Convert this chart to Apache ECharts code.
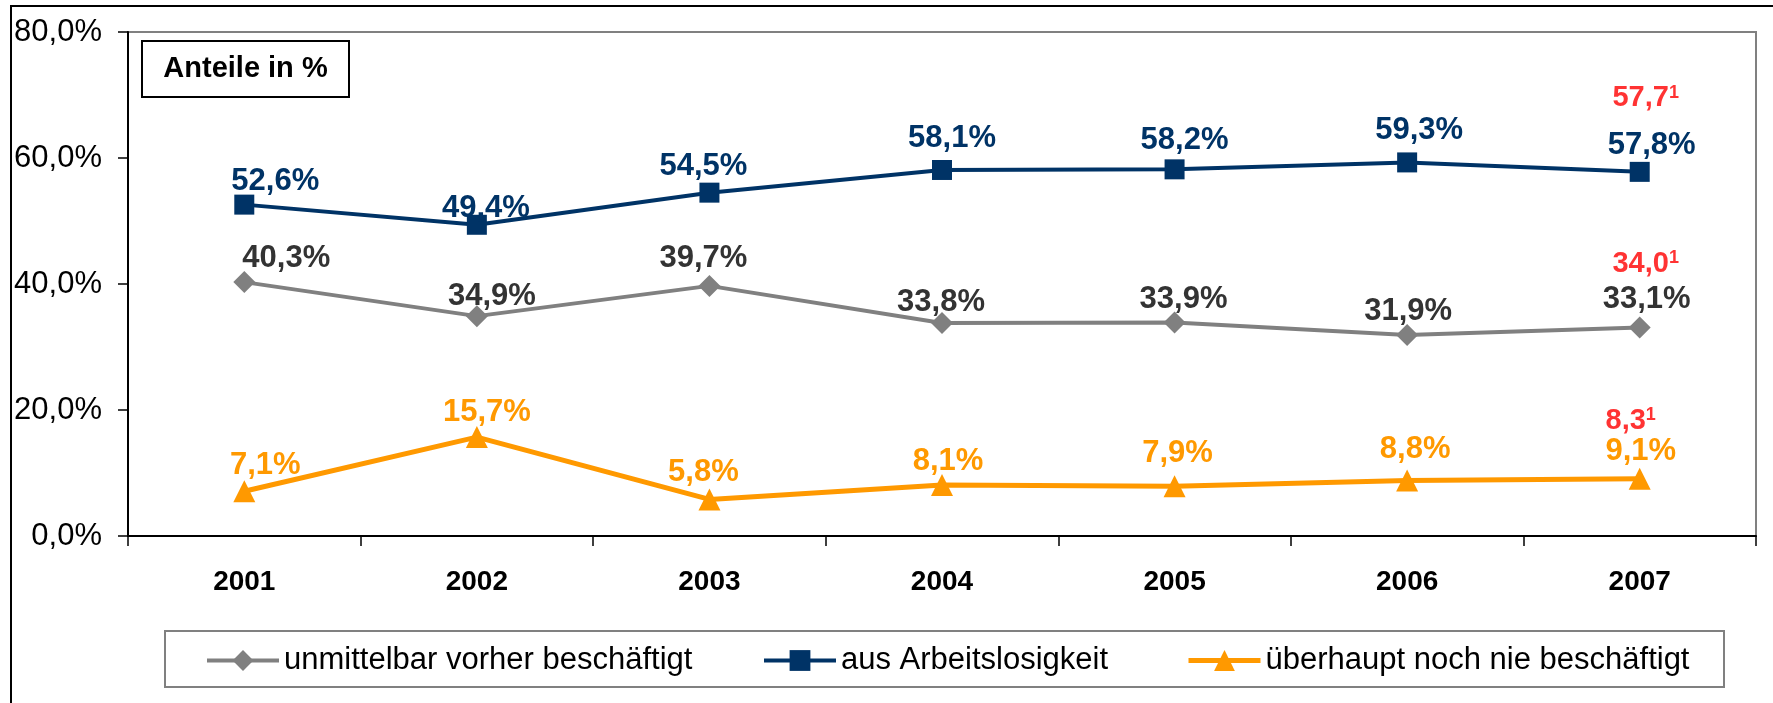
<!DOCTYPE html>
<html>
<head>
<meta charset="utf-8">
<script src="https://cdn.jsdelivr.net/npm/echarts@6/dist/echarts.min.js"></script>
<style>
html,body{margin:0;padding:0;background:#fff;}
#chart{width:1773px;height:703px;}
</style>
</head>
<body>
<div id="chart"></div>
<script>
// ---- data ----
const categories = ['2001', '2002', '2003', '2004', '2005', '2006', '2007'];
const yTicks = [0, 20, 40, 60, 80];
const seriesNames = ['unmittelbar vorher beschäftigt', 'aus Arbeitslosigkeit', 'überhaupt noch nie beschäftigt'];
const valuesVorher = [40.3, 34.9, 39.7, 33.8, 33.9, 31.9, 33.1];
const valuesArbeitslos = [52.6, 49.4, 54.5, 58.1, 58.2, 59.3, 57.8];
const valuesNie = [7.1, 15.7, 5.8, 8.1, 7.9, 8.8, 9.1];
// footnoted alternative values for 2007
const footnoteVorher = 34.0;
const footnoteArbeitslos = 57.7;
const footnoteNie = 8.3;
const footnoteMark = '1';

// ---- label placement (style, px) ----
const offArbeitslos = [[31,-23],[9,-16],[-6,-26],[10,-32],[10,-29],[12,-32],[12,-26]];
const offVorher = [[42,-24],[15,-20],[-6,-27],[-1,-21],[9,-23],[1,-24],[7,-28]];
const offNie = [[21,-26],[10,-25],[-6,-27],[6,-24],[3,-33],[8,-31],[1,-27]];
const offFootArbeitslos = [6,-74];
const offFootVorher = [6,-58];
const offFootNie = [-9,-63];

const FONT = "'Liberation Sans', Arial, sans-serif";
const fmt = v => v.toFixed(1).replace('.', ',');

function mkData(vals, offs) {
  return vals.map((v, i) => ({ value: v, label: { offset: offs[i] } }));
}

function lineSeries(name, vals, offs, color, labelColor, symbol, size, width) {
  return {
    name: name,
    type: 'line',
    data: mkData(vals, offs),
    symbol: symbol,
    symbolSize: size,
    itemStyle: { color: color },
    lineStyle: { color: color, width: width },
    label: {
      show: true,
      position: 'inside',
      align: 'center',
      verticalAlign: 'middle',
      formatter: p => fmt(p.value) + '%',
      color: labelColor,
      fontFamily: FONT,
      fontWeight: 'bold',
      fontSize: 31
    },
    emphasis: { disabled: true },
    z: 3
  };
}

function footSeries(val, off) {
  return {
    name: 'Fußnote ' + val,
    type: 'scatter',
    symbolSize: 0,
    data: [{ value: [categories[categories.length - 1], val], label: { offset: off } }],
    label: {
      show: true,
      position: 'inside',
      align: 'center',
      verticalAlign: 'middle',
      formatter: p => '{v|' + fmt(p.value[1]) + '}{s|' + footnoteMark + '}',
      rich: {
        v: { color: '#FF0000', fontFamily: FONT, fontWeight: 'bold', fontSize: 29 },
        s: { color: '#FF0000', fontFamily: FONT, fontWeight: 'bold', fontSize: 18, verticalAlign: 'top', lineHeight: 26 }
      }
    },
    emphasis: { disabled: true },
    z: 4
  };
}

const chart = echarts.init(document.getElementById('chart'), null, { renderer: 'canvas' });

function legendAt(name, left, lw) {
  return {
    data: [name],
    left: left,
    top: 645,
    padding: 0,
    itemWidth: 72,
    itemHeight: 26,
    itemGap: 0,
    selectedMode: false,
    lineStyle: { width: lw },
    textStyle: { fontFamily: FONT, fontSize: 31, color: '#000', padding: [0, 0, 0, 0] }
  };
}

const option = {
  backgroundColor: '#ffffff',
  animation: false,
  grid: {
    left: 128, right: 17, top: 32, bottom: 167,
    show: true, borderColor: '#808080', borderWidth: 2, backgroundColor: 'transparent'
  },
  xAxis: {
    type: 'category',
    data: categories,
    boundaryGap: true,
    axisLine: { lineStyle: { color: '#000', width: 2 } },
    axisTick: { show: true, alignWithLabel: false, length: 10, lineStyle: { color: '#000', width: 1.5 } },
    axisLabel: { fontFamily: FONT, fontWeight: 'bold', fontSize: 28, color: '#000', margin: 32 },
    splitLine: { show: false }
  },
  yAxis: {
    type: 'value',
    min: yTicks[0],
    max: yTicks[yTicks.length - 1],
    interval: yTicks[1] - yTicks[0],
    axisLine: { show: true, lineStyle: { color: '#000', width: 2 } },
    axisTick: { show: true, length: 10, lineStyle: { color: '#000', width: 1.5 } },
    axisLabel: { fontFamily: FONT, fontSize: 31, color: '#000', margin: 26, formatter: v => fmt(v) + '%' },
    splitLine: { show: false }
  },
  legend: [
    legendAt(seriesNames[0], 205, 4),
    legendAt(seriesNames[1], 762, 4),
    legendAt(seriesNames[2], 1186, 5)
  ],
  graphic: [
    { type: 'rect', z: -10, shape: { x: 11, y: 6, width: 1800, height: 800 }, style: { fill: 'none', stroke: '#000', lineWidth: 2 } },
    { type: 'rect', z: -5, shape: { x: 165, y: 631, width: 1559, height: 56 }, style: { fill: '#fff', stroke: '#808080', lineWidth: 2 } },
    { type: 'rect', z: 5, shape: { x: 142, y: 41, width: 207, height: 56 }, style: { fill: '#fff', stroke: '#000', lineWidth: 2 } },
    { type: 'text', z: 6, x: 245.5, y: 69, style: { text: 'Anteile in %', fill: '#000', font: 'bold 29px ' + FONT, textAlign: 'center', textVerticalAlign: 'middle' } }
  ],
  series: [
    lineSeries(seriesNames[0], valuesVorher, offVorher, '#808080', '#333333', 'diamond', 22, 4),
    lineSeries(seriesNames[1], valuesArbeitslos, offArbeitslos, '#003366', '#003366', 'rect', 20, 4),
    lineSeries(seriesNames[2], valuesNie, offNie, '#FF9900', '#FF9900', 'triangle', 22, 5),
    footSeries(footnoteArbeitslos, offFootArbeitslos),
    footSeries(footnoteVorher, offFootVorher),
    footSeries(footnoteNie, offFootNie)
  ]
};
chart.setOption(option);
</script>
</body>
</html>
